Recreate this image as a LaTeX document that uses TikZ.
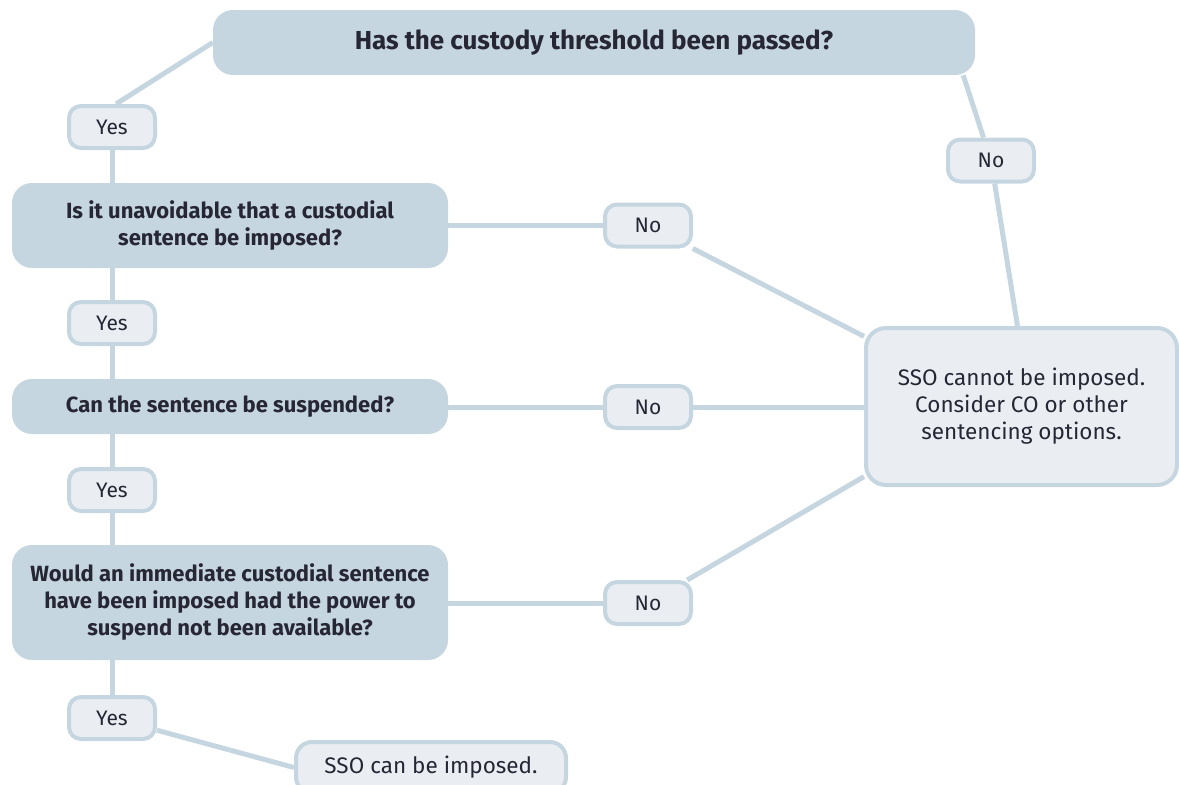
\documentclass[tikz,border=0pt]{standalone}
\usepackage{fontspec}
\setmainfont{Fira Sans}
\usetikzlibrary{positioning}

\definecolor{linkblue}{RGB}{197,214,224}
\definecolor{pale}{RGB}{234,238,243}
\definecolor{ink}{RGB}{38,38,52}

\begin{document}
\begin{tikzpicture}[x=1pt, y=-1pt,
			question/.style={fill=linkblue, rounded corners=20pt, text=ink, align=center, inner sep=0pt,
				font=\bfseries\fontsize{22}{27}\selectfont},
			answer/.style={fill=pale, draw=linkblue, line width=4pt, rounded corners=12pt, text=ink, inner sep=0pt,
				font=\fontsize{21}{27}\selectfont, minimum width=86pt, minimum height=42pt},
			link/.style={draw=linkblue, line width=5pt}
			]
			\useasboundingbox (0,0) rectangle (1179,785);
			% questions
			\node[question, minimum width=762pt, minimum height=65pt, font=\bfseries\fontsize{26}{30}\selectfont]
				(thresh) at (594,42.5) {Has the custody threshold been passed?};
			\node[question, minimum width=436pt, minimum height=85pt] (unavoid) at (230,225.5)
				{Is it unavoidable that a custodial\\sentence be imposed?};
			\node[question, minimum width=436pt, minimum height=55pt] (suspend) at (230,406.5)
				{Can the sentence be suspended?};
			\node[question, minimum width=436pt, minimum height=115pt] (immediate) at (230,602.5)
				{Would an immediate custodial sentence\\have been imposed had the power to\\suspend not been available?};
			% answers
			\foreach \n/\x/\y/\lab in {yesA/112/127/Yes, yesB/112/323/Yes, yesC/112/490/Yes, yesD/112/718/Yes,
				noA/648/225.5/No, noB/648/407/No, noC/648/603/No, noT/991/160.5/No}{
				\node[answer] (\n) at (\x,\y) {\lab};
			}
			% outcomes
			\node[answer, rounded corners=20pt, align=center, minimum width=311pt, minimum height=157pt,
				font=\fontsize{22.5}{27}\selectfont]
				(cannot) at (1021.5,406.5) {SSO cannot be imposed.\\Consider CO or other\\sentencing options.};
			\node[answer, rounded corners=16pt, minimum width=270pt, minimum height=51pt,
				font=\fontsize{22.5}{27}\selectfont]
				(can) at (431,767.5) {SSO can be imposed.};
			% yes branch
			\draw[link] (thresh.west) -- ([xshift=4pt]yesA.north);
			\draw[link] (yesA) -- (yesA |- unavoid.north);
			\draw[link] (yesB |- unavoid.south) -- (yesB);
			\draw[link] (yesB) -- (yesB |- suspend.north);
			\draw[link] (yesC |- suspend.south) -- (yesC);
			\draw[link] (yesC) -- (yesC |- immediate.north);
			\draw[link] (yesD |- immediate.south) -- (yesD);
			\draw[link] (yesD) -- (can.west);
			% no branch
			\draw[link] ([xshift=-12pt]thresh.south east) -- (noT);
			\draw[link] (noT) -- ([xshift=-4pt]cannot.north);
			\draw[link] (unavoid.east |- noA) -- (noA);
			\draw[link] (noA) -- (cannot.156);
			\draw[link] (suspend.east |- noB) -- (noB);
			\draw[link] (noB) -- (cannot.west |- noB);
			\draw[link] (immediate.east |- noC) -- (noC);
			\draw[link] (noC) -- (cannot.204);
		\end{tikzpicture}
\end{document}
